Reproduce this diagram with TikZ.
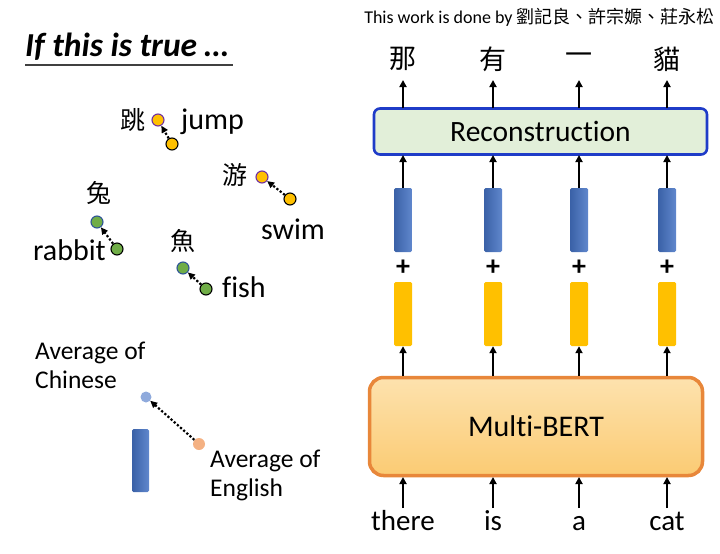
\documentclass[tikz,border=0pt]{standalone}
\usepackage{fontspec}
\setmainfont{Carlito}[Ligatures=NoCommon]
\newfontfamily\cjk{Noto Sans CJK TC}
\usetikzlibrary{arrows.meta}
\definecolor{cyel}{HTML}{FFC000}
\definecolor{cgreen}{HTML}{70AD47}
\definecolor{cblue}{HTML}{4472C4}
\definecolor{cpurple}{HTML}{7030A0}
\definecolor{cdblue}{HTML}{2F5597}
\definecolor{clblue}{HTML}{8FAADC}
\definecolor{cpeach}{HTML}{F4B183}
\definecolor{recfill}{HTML}{E2EFD9}
\definecolor{recline}{HTML}{1F3CC8}
\definecolor{bertline}{HTML}{E8873A}
\definecolor{berttop}{HTML}{FDE2AE}
\definecolor{bertbot}{HTML}{FBCB73}
\tikzset{
  dot/.style={circle, minimum size=12pt, inner sep=0pt, line width=1.1pt},
  wordlbl/.style={font=\fontsize{30}{34}\selectfont, inner sep=0pt},
  cjklbl/.style={font=\cjk\fontsize{25}{28}\selectfont, inner sep=0pt},
  dotarrow/.style={line width=2.2pt, dotted, -{Triangle[length=7pt,width=6.5pt]}},
  uparrow/.style={line width=2.2pt, -{Triangle[length=7pt,width=7pt]}},
  bluebar/.style={rectangle, rounded corners=1.5pt, minimum width=18pt, minimum height=64pt, inner sep=0pt, left color=cblue!85!black, right color=cblue!85!white},
  yelbar/.style={rectangle, rounded corners=1.5pt, minimum width=18pt, minimum height=64pt, inner sep=0pt, fill=cyel},
  avg/.style={font=\fontsize{25.5}{30}\selectfont, align=left, inner sep=0pt, anchor=north west},
}
\begin{document}
\begin{tikzpicture}[x=1pt,y=-1pt]
\useasboundingbox (0,0) rectangle (720,554);
% title
\node[anchor=base west, inner sep=0pt, font=\fontsize{33.5}{36}\selectfont\bfseries\itshape] (title) at (25,56) {If this is true \dots};
\draw[line width=1.3pt, black!75] (25,65) coordinate (ul1) -- (233,65) coordinate (ul2);
% jump
\node[dot, draw=cpurple, fill=cyel] (zh1) at (158,120) {};
\node[dot, draw=black, fill=cyel] (en1) at (172,144) {};
\draw[dotarrow] (en1) -- (zh1);
\node[cjklbl] (c1) at (133,120) {跳};
\node[wordlbl, anchor=west] (w1) at (181,122) {jump};
% swim
\node[dot, draw=cpurple, fill=cyel] (zh2) at (262,177) {};
\node[dot, draw=black, fill=cyel] (en2) at (290,199) {};
\draw[dotarrow] (en2) -- (zh2);
\node[cjklbl] (c2) at (234.5,175) {游};
\node[wordlbl] (w2) at (293,229) {swim};
% rabbit
\node[dot, draw=cdblue, fill=cgreen] (zh3) at (97,222) {};
\node[dot, draw=black, fill=cgreen] (en3) at (117,249) {};
\draw[dotarrow] (en3) -- (zh3);
\node[cjklbl] (c3) at (99,193) {兔};
\node[wordlbl, anchor=east] (w3) at (106,250) {rabbit};
% fish
\node[dot, draw=cdblue, fill=cgreen] (zh4) at (183,268) {};
\node[dot, draw=black, fill=cgreen] (en4) at (206,289) {};
\draw[dotarrow] (en4) -- (zh4);
\node[cjklbl] (c4) at (183,241) {魚};
\node[wordlbl, anchor=west] (w4) at (222,287) {fish};
% averages
\node[avg] (avgzh) at (35,342) {Average of\\[-1pt]Chinese};
\node[avg] (avgen) at (210,450) {Average of\\[-1pt]English};
\node[circle, minimum size=11pt, inner sep=0pt, fill=clblue] (pzh) at (146,397) {};
\node[circle, minimum size=12pt, inner sep=0pt, fill=cpeach] (pen) at (199,444) {};
\draw[dotarrow] (pen) -- (pzh);
\node[bluebar, minimum height=63pt, minimum width=17pt] (bar) at (140.5,460.5) {};
% header
\node[anchor=center, inner sep=0pt, font=\fontsize{18}{22}\selectfont] (hdr) at (539.5,17) {This work is done by {\cjk 劉記良、許宗嫄、莊永松}};
% reconstruction
\node[draw=recline, line width=2.6pt, fill=recfill, rounded corners=6pt, minimum width=333pt, minimum height=46pt, inner sep=0pt, font=\fontsize{29.5}{32}\selectfont] (rec) at (540.5,131.5) {Reconstruction};
% multi-bert
\node[draw=bertline, line width=3.5pt, top color=berttop, bottom color=bertbot, rounded corners=14pt, minimum width=333pt, minimum height=98pt, inner sep=0pt, font=\fontsize{30}{32}\selectfont] (bert) at (536,426.5) {Multi-BERT};
% columns
\foreach \i/\x/\zh/\en in {1/403/那/there, 2/493/有/is, 3/579/一/a, 4/667/貓/cat} {
  \node[font=\cjk\fontsize{27}{30}\selectfont, inner sep=0pt] (out\i) at (\x,59) {\zh};
  \coordinate (rt\i) at (\x,108);
  \coordinate (rb\i) at (\x,155);
  \coordinate (bt\i) at (\x,376);
  \coordinate (bb\i) at (\x,477);
  \node[bluebar] (b\i) at (\x,220) {};
  \node[yelbar] (y\i) at (\x,314) {};
  \node[font=\fontsize{28}{30}\selectfont\bfseries, inner sep=0pt] (plus\i) at (\x,268) {+};
  \node[font=\fontsize{29}{32}\selectfont, anchor=base, inner sep=0pt] (in\i) at (\x,530) {\en};
  \draw[uparrow] (rt\i) -- (\x,80) coordinate (ot\i);
  \draw[uparrow] (b\i.north) -- (rb\i);
  \draw[uparrow] (bt\i) -- (y\i.south);
  \draw[uparrow] (\x,508) coordinate (st\i) -- (bb\i);
}
\end{tikzpicture}
\end{document}
